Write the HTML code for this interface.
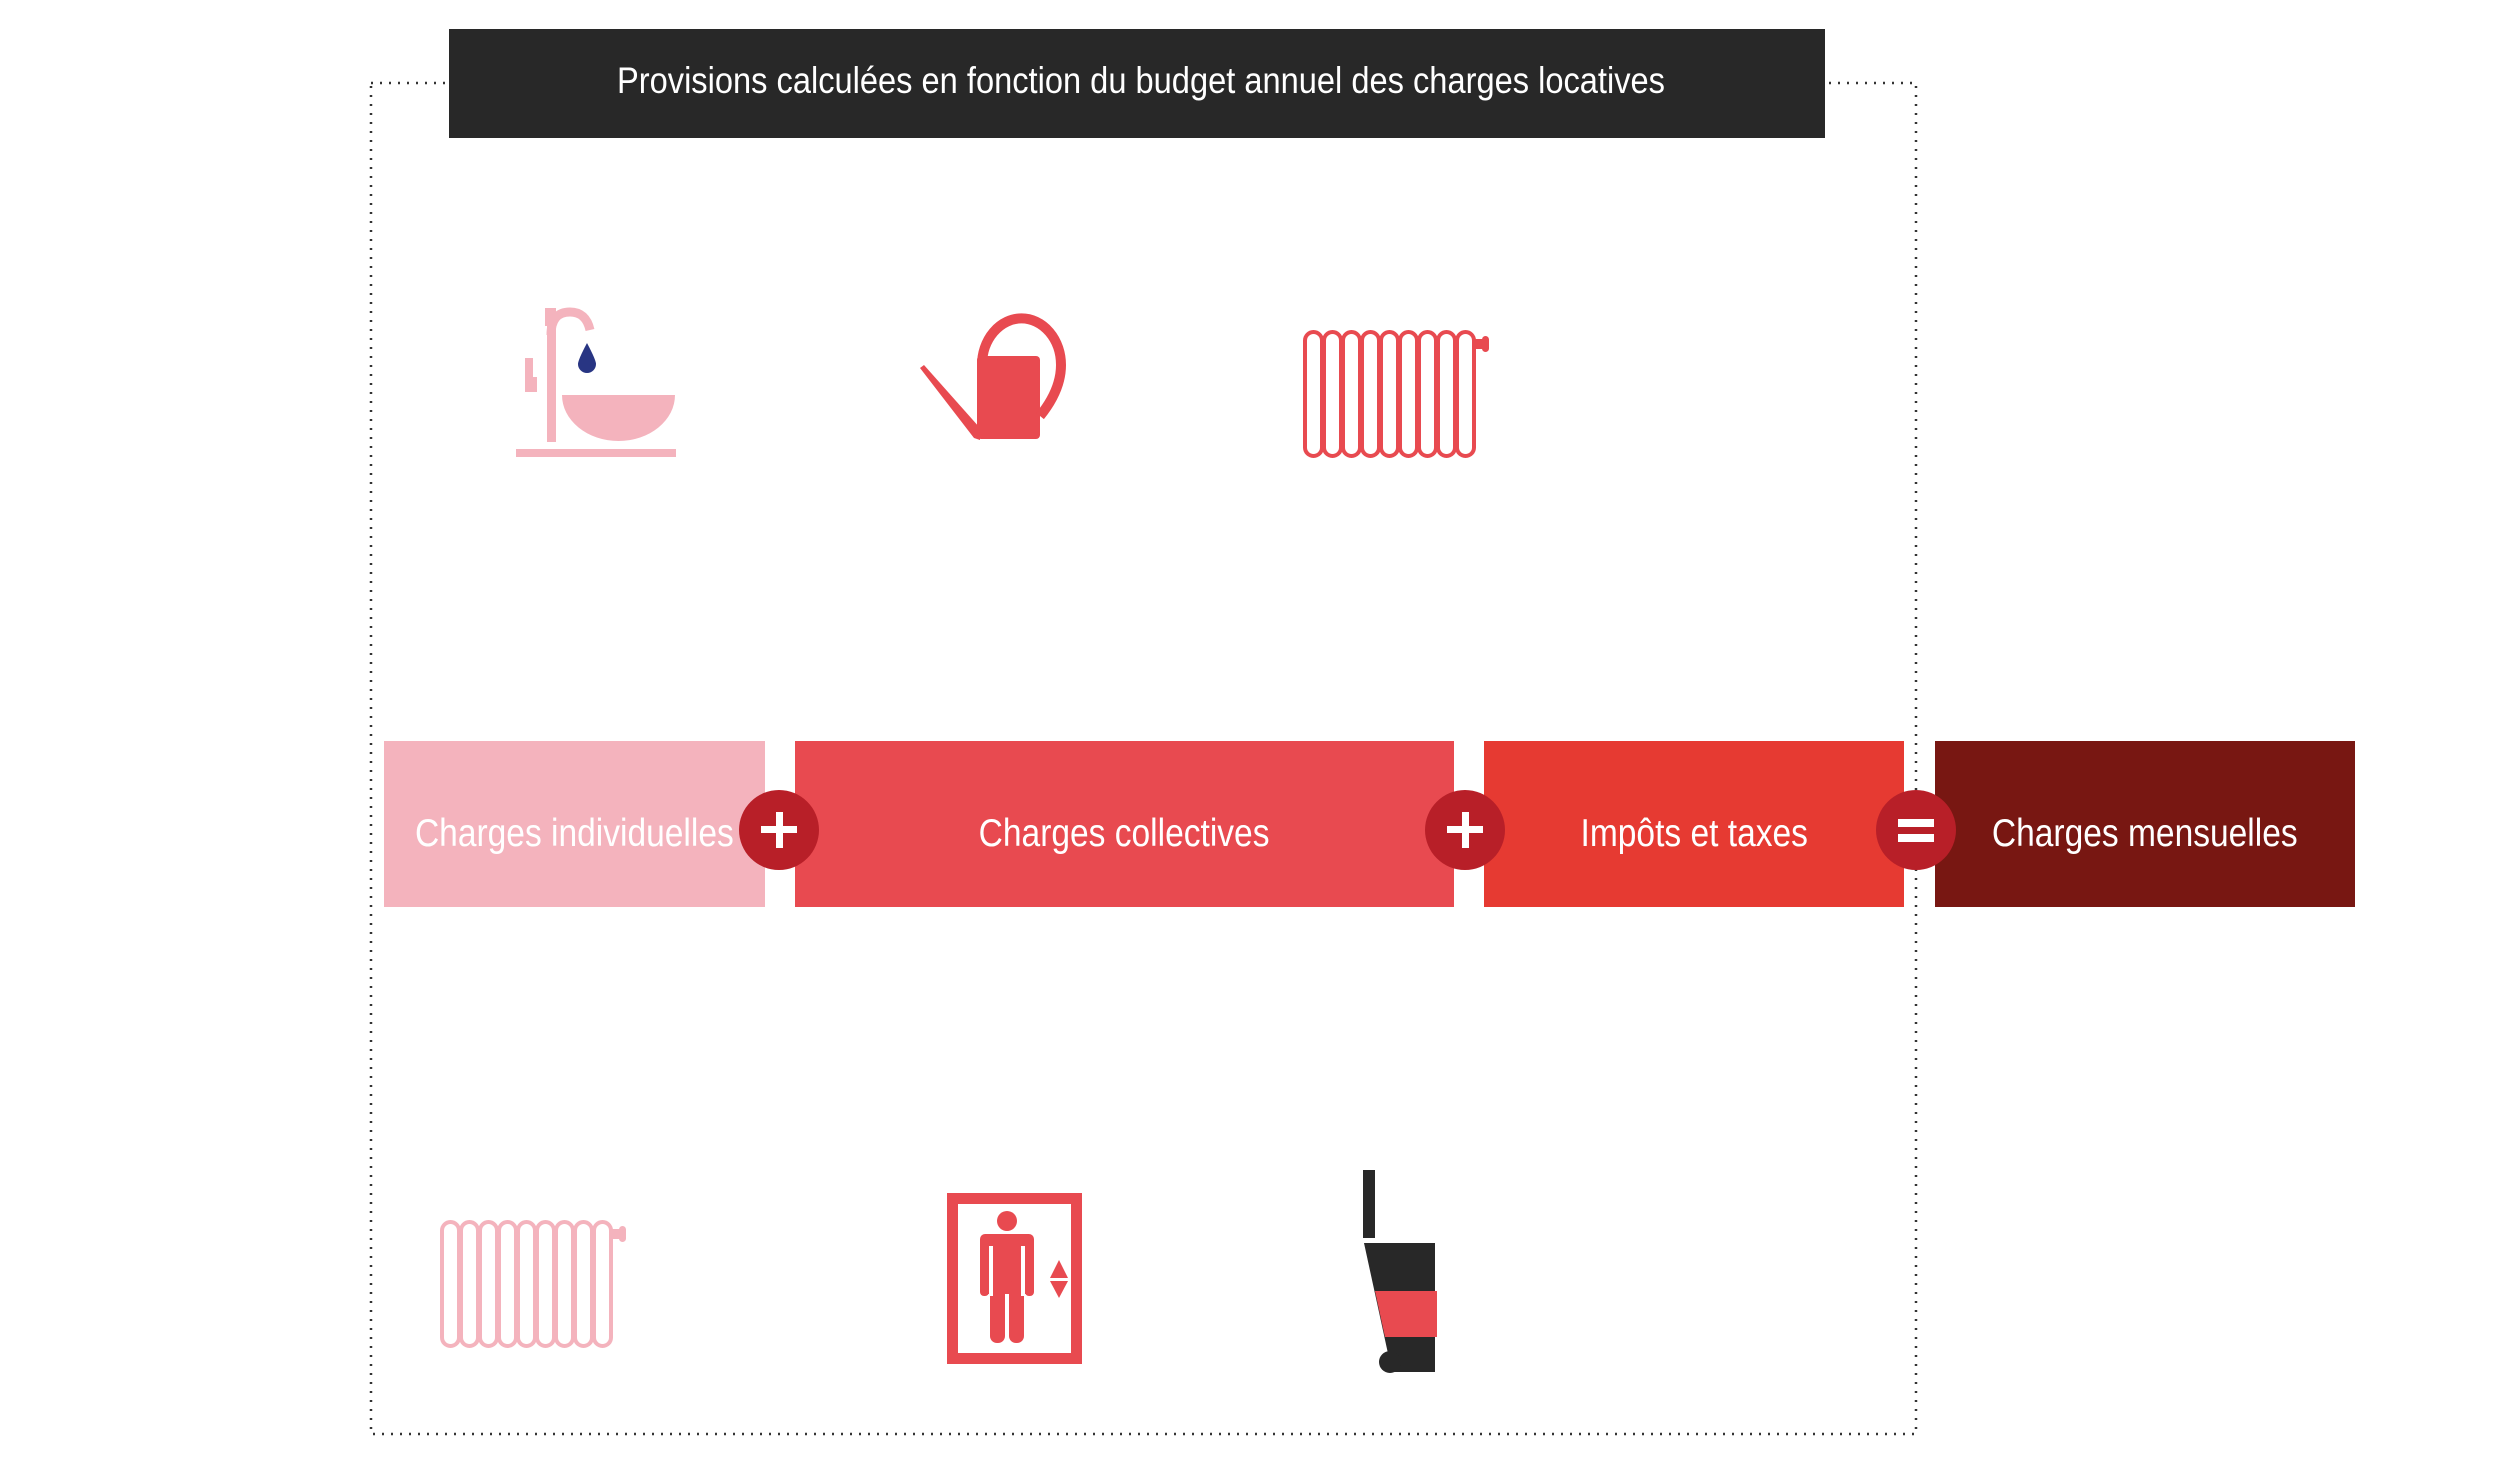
<!DOCTYPE html>
<html><head><meta charset="utf-8"><style>
html,body{margin:0;padding:0;background:#fff;}
body{width:2500px;height:1458px;position:relative;overflow:hidden;font-family:"Liberation Sans Narrow","Liberation Sans",sans-serif;}
.box{position:absolute;top:741px;height:166px;color:#fff;font-size:39px;display:flex;align-items:center;justify-content:center;white-space:nowrap;}
.box span{display:inline-block;transform:scaleX(0.86);position:relative;top:10px;}
.circ{position:absolute;width:80px;height:80px;border-radius:50%;background:#b81f28;top:790px;color:#fff;}
</style></head><body>
<svg width="2500" height="1458" style="position:absolute;left:0;top:0">
<rect x="371" y="83" width="1545" height="1351" fill="none" stroke="#333" stroke-width="2.5" stroke-dasharray="2 7"/>
<rect x="449" y="29" width="1376" height="109" fill="#282828"/>
<text x="1141" y="93" text-anchor="middle" fill="#fff" font-family="Liberation Sans Narrow, Liberation Sans, sans-serif" font-size="37" textLength="1048" lengthAdjust="spacingAndGlyphs">Provisions calculées en fonction du budget annuel des charges locatives</text>
<g fill="#f4b3bd">
<rect x="547" y="308" width="9" height="134"/>
<path d="M551 335 Q551 312 570 312 Q586 312 590 330" fill="none" stroke="#f4b3bd" stroke-width="9"/>
<rect x="545" y="308" width="6" height="18"/>
<rect x="525" y="358" width="8" height="34"/>
<rect x="525" y="377" width="12" height="15"/>
<path d="M562 395 L675 395 A56.5 46 0 0 1 562 395 Z"/>
<rect x="516" y="449" width="160" height="8"/>
</g>
<path d="M587 343 Q578 360 578 364 A9 9 0 0 0 596 364 Q596 360 587 343 Z" fill="#283583"/>
<g fill="#e84a50">
<rect x="977" y="356" width="63" height="83" rx="4"/>
<path d="M982 365 A39 46 0 0 1 1061 365 Q1061 390 1040 416" fill="none" stroke="#e84a50" stroke-width="10"/>
<polygon points="920,368 924,365 980,428 980,440 974,438"/>
</g>
<g fill="none" stroke="#e84a50" stroke-width="4">
<rect x="1305" y="332" width="17" height="124" rx="8.5"/>
<rect x="1324" y="332" width="17" height="124" rx="8.5"/>
<rect x="1343" y="332" width="17" height="124" rx="8.5"/>
<rect x="1362" y="332" width="17" height="124" rx="8.5"/>
<rect x="1381" y="332" width="17" height="124" rx="8.5"/>
<rect x="1400" y="332" width="17" height="124" rx="8.5"/>
<rect x="1419" y="332" width="17" height="124" rx="8.5"/>
<rect x="1438" y="332" width="17" height="124" rx="8.5"/>
<rect x="1457" y="332" width="17" height="124" rx="8.5"/>
</g>
<rect x="1474" y="339" width="12" height="10" fill="#e84a50"/><rect x="1482" y="336" width="7" height="16" rx="3.5" fill="#e84a50"/>
<g transform="translate(-863,890)">
<g fill="none" stroke="#f4b3bd" stroke-width="4">
<rect x="1305" y="332" width="17" height="124" rx="8.5"/>
<rect x="1324" y="332" width="17" height="124" rx="8.5"/>
<rect x="1343" y="332" width="17" height="124" rx="8.5"/>
<rect x="1362" y="332" width="17" height="124" rx="8.5"/>
<rect x="1381" y="332" width="17" height="124" rx="8.5"/>
<rect x="1400" y="332" width="17" height="124" rx="8.5"/>
<rect x="1419" y="332" width="17" height="124" rx="8.5"/>
<rect x="1438" y="332" width="17" height="124" rx="8.5"/>
<rect x="1457" y="332" width="17" height="124" rx="8.5"/>
</g>
<rect x="1474" y="339" width="12" height="10" fill="#f4b3bd"/><rect x="1482" y="336" width="7" height="16" rx="3.5" fill="#f4b3bd"/>
</g>
<g fill="#e84a50">
<rect x="952.5" y="1198.5" width="124" height="160" fill="none" stroke="#e84a50" stroke-width="11"/>
<circle cx="1007" cy="1221" r="10"/>
<rect x="980" y="1234" width="54" height="60" rx="5"/>
<rect x="990" y="1280" width="15" height="63" rx="7"/>
<rect x="1009" y="1280" width="15" height="63" rx="7"/>
<rect x="989" y="1246" width="4" height="50" fill="#fff"/>
<rect x="1021" y="1246" width="4" height="50" fill="#fff"/>
<rect x="980" y="1240" width="9" height="56" rx="4"/>
<rect x="1025" y="1240" width="9" height="56" rx="4"/>
<polygon points="1059,1260 1068,1278 1050,1278"/>
<polygon points="1050,1281 1068,1281 1059,1298"/>
</g>
<rect x="1363" y="1170" width="12" height="68" fill="#282828"/>
<polygon points="1364,1243 1435,1243 1435,1372 1392,1372" fill="#282828"/>
<polygon points="1375,1291 1437,1291 1437,1337 1385,1337" fill="#e84a50"/>
<circle cx="1390" cy="1362" r="11" fill="#282828"/>
</svg>
<div class="box" style="left:384px;width:381px;background:#f4b3bd"><span>Charges individuelles</span></div>
<div class="box" style="left:795px;width:659px;background:#e84a50"><span>Charges collectives</span></div>
<div class="box" style="left:1484px;width:420px;background:#e63a32"><span>Impôts et taxes</span></div>
<div class="box" style="left:1935px;width:420px;background:#781712"><span>Charges mensuelles</span></div>
<div class="circ" style="left:739px"><div style="position:absolute;left:37px;top:22px;width:7px;height:36px;background:#fff"></div><div style="position:absolute;left:22px;top:36px;width:36px;height:7px;background:#fff"></div></div>
<div class="circ" style="left:1425px"><div style="position:absolute;left:37px;top:22px;width:7px;height:36px;background:#fff"></div><div style="position:absolute;left:22px;top:36px;width:36px;height:7px;background:#fff"></div></div>
<div class="circ" style="left:1876px"><div style="position:absolute;left:22px;top:29px;width:36px;height:8px;background:#fff"></div><div style="position:absolute;left:22px;top:44px;width:36px;height:8px;background:#fff"></div></div>
</body></html>
